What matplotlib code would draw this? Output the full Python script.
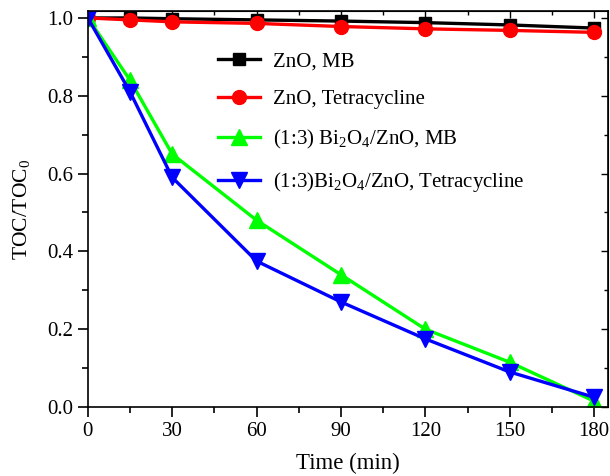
import matplotlib
matplotlib.use('Agg')
import matplotlib.pyplot as plt
from matplotlib.ticker import MultipleLocator

plt.rcParams['font.family'] = 'Liberation Serif'
plt.rcParams['mathtext.fontset'] = 'custom'
plt.rcParams['mathtext.rm'] = 'Liberation Serif'
plt.rcParams['mathtext.it'] = 'Liberation Serif:italic'

# ── dados ────────────────────────────────────────────────────────────────
tempo = [0, 15, 30, 60, 90, 120, 150, 180]
zno_mb = [1.0, 1.0, 0.998, 0.995, 0.992, 0.988, 0.982, 0.974]
zno_tc = [1.0, 0.995, 0.99, 0.986, 0.978, 0.972, 0.968, 0.963]
bi_mb = [1.0, 0.84, 0.65, 0.48, 0.34, 0.20, 0.115, 0.015]
bi_tc = [1.0, 0.81, 0.59, 0.375, 0.27, 0.175, 0.09, 0.025]

labels = ['ZnO, MB', 'ZnO, Tetracycline',
          r'(1:3) Bi$_\mathregular{2}$O$_\mathregular{4}$/ZnO, MB',
          r'(1:3)Bi$_\mathregular{2}$O$_\mathregular{4}$/ZnO, Tetracycline']

fig = plt.figure(figsize=(6.10, 4.76), dpi=100)
ax = fig.add_axes([0.144, 0.145, 0.853, 0.832])

ax.plot(tempo, zno_mb, '-s', color='black', lw=2.4, ms=9, label=labels[0])
ax.plot(tempo, zno_tc, '-o', color='red', lw=2.4, ms=10, label=labels[1])
ax.plot(tempo, bi_mb, '-^', color='#00ff00', lw=2.4, ms=11, label=labels[2])
ax.plot(tempo, bi_tc, '-v', color='blue', lw=2.4, ms=11, label=labels[3])

ax.set_xlim(0, 185)
ax.set_ylim(0, 1.018)
ax.xaxis.set_major_locator(MultipleLocator(30))
ax.xaxis.set_minor_locator(MultipleLocator(15))
ax.yaxis.set_major_locator(MultipleLocator(0.2))
ax.yaxis.set_minor_locator(MultipleLocator(0.1))
ax.tick_params(which='both', direction='out', labelsize=15, width=1.2,
               top=False, right=False)
ax.tick_params(which='major', length=7)
ax.tick_params(which='minor', length=4)
secx = ax.secondary_xaxis('top')
secx.xaxis.set_major_locator(MultipleLocator(30))
secx.xaxis.set_minor_locator(MultipleLocator(15))
secx.tick_params(which='both', direction='in', labeltop=False, width=1.0)
secx.tick_params(which='major', length=5)
secx.tick_params(which='minor', length=3)
secy = ax.secondary_yaxis('right')
secy.yaxis.set_major_locator(MultipleLocator(0.2))
secy.yaxis.set_minor_locator(MultipleLocator(0.1))
secy.tick_params(which='both', direction='in', labelright=False, width=1.0)
secy.tick_params(which='major', length=5)
secy.tick_params(which='minor', length=3)
for s in ax.spines.values():
    s.set_linewidth(1.2)

ax.set_xlabel('Time (min)', fontsize=16.5, labelpad=9)
ax.set_ylabel(r'TOC/TOC$_\mathregular{0}$', fontsize=15.5)
ax.yaxis.set_label_coords(-0.108, 0.5)

ax.legend(loc='upper left', bbox_to_anchor=(0.215, 0.945), frameon=False,
          fontsize=15, handlelength=2.0, labelspacing=0.9, handletextpad=0.6)

plt.savefig('out.png', dpi=100)
plt.close()
